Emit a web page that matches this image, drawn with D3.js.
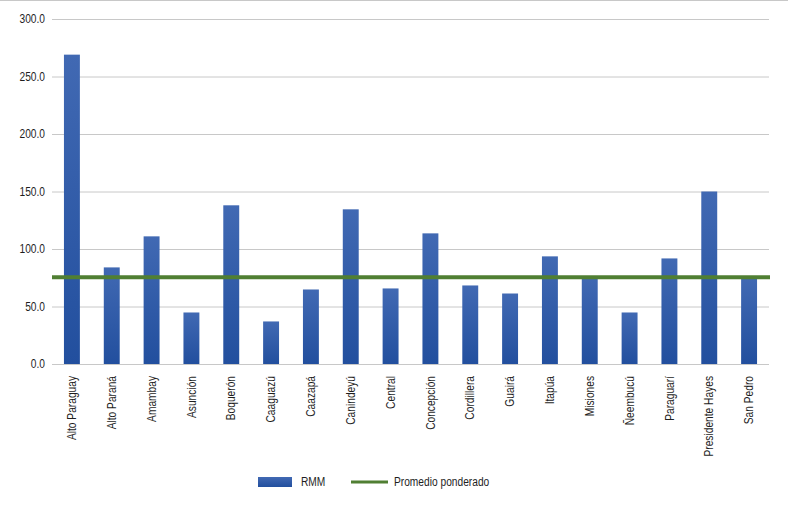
<!DOCTYPE html>
<html lang="es">
<head>
<meta charset="utf-8" />
<title>RMM por departamento</title>
<script src="https://d3js.org/d3.v7.min.js"></script>
<style>
  body { margin: 0; background: #fff; }
  svg { display: block; font-family: "Liberation Sans", Arial, sans-serif; }
  .grid line { stroke: #c8c8c8; stroke-width: 1; }
  .grid .domain { display: none; }
  .tick text { fill: #1e1e1e; font-size: 12px; }
  .legend text { fill: #1e1e1e; font-size: 12px; }
</style>
</head>
<body>
<svg width="788" height="507"></svg>
<script>
// departamentos
var departamentos = ["Alto Paraguay", "Alto Paraná", "Amambay", "Asunción", "Boquerón", "Caaguazú",
  "Caazapá", "Canindeyú", "Central", "Concepción", "Cordillera", "Guairá", "Itapúa", "Misiones",
  "Ñeembucú", "Paraguarí", "Presidente Hayes", "San Pedro"];

// razón de mortalidad materna
var rmm = [269, 84, 111, 44.8, 138, 37, 64.8, 134.5, 65.7, 113.6, 68.3, 61.3, 93.6, 75.3,
  44.8, 91.8, 150, 74.5];

var promedio = 75.5;
var yTicks = [0, 50, 100, 150, 200, 250, 300];

var svg = d3.select("svg"),
    margin = {top: 19, right: 19, bottom: 143, left: 52},
    width = 788 - margin.left - margin.right,
    height = 507 - margin.top - margin.bottom;

// marco superior
svg.append("line")
    .attr("x1", 0).attr("x2", 788)
    .attr("y1", 0.5).attr("y2", 0.5)
    .style("stroke", "#c8c8c8");

var defs = svg.append("defs");
var grad = defs.append("linearGradient")
    .attr("id", "barGrad")
    .attr("x1", 0).attr("y1", 0).attr("x2", 0).attr("y2", 1);
grad.append("stop").attr("offset", "0%").attr("stop-color", "#4169b3");
grad.append("stop").attr("offset", "100%").attr("stop-color", "#224f9e");

var g = svg.append("g")
    .attr("transform", "translate(" + margin.left + "," + margin.top + ")");

var x = d3.scaleBand()
    .domain(departamentos)
    .range([0, width])
    .paddingInner(0.6)
    .paddingOuter(0.3);

var y = d3.scaleLinear()
    .domain([0, 300])
    .range([height, 0]);

g.append("g")
    .attr("class", "grid")
    .call(d3.axisLeft(y).tickValues(yTicks).tickSize(-width).tickFormat(d3.format(".1f")).tickPadding(7));

g.selectAll(".grid .tick line").attr("x1", 0).attr("x2", width);

g.selectAll(".bar")
    .data(rmm)
  .enter().append("rect")
    .attr("class", "bar")
    .attr("x", function(d, i) { return x(departamentos[i]); })
    .attr("width", x.bandwidth())
    .attr("y", function(d) { return y(d); })
    .attr("height", function(d) { return height - y(d); })
    .style("fill", "url(#barGrad)");

// etiquetas del eje x
var xAxis = g.append("g")
    .attr("transform", "translate(0," + height + ")")
    .call(d3.axisBottom(x).tickSize(0));
xAxis.select(".domain").remove();
xAxis.selectAll("text")
    .attr("transform", "rotate(-90)")
    .attr("text-anchor", "end")
    .attr("dx", "-12")
    .attr("dy", "0.35em")
    .attr("x", 0)
    .attr("y", 0);

// promedio ponderado
g.append("line")
    .attr("x1", 0)
    .attr("x2", width + 1)
    .attr("y1", y(promedio))
    .attr("y2", y(promedio))
    .style("stroke", "#507f33")
    .style("stroke-width", 4);

// leyenda
var legend = svg.append("g").attr("class", "legend");
legend.append("rect")
    .attr("x", 258).attr("y", 477)
    .attr("width", 34).attr("height", 10)
    .style("fill", "url(#barGrad)");
legend.append("text")
    .attr("x", 301).attr("y", 482)
    .attr("dy", "0.35em")
    .text("RMM");
legend.append("line")
    .attr("x1", 351).attr("x2", 388)
    .attr("y1", 482).attr("y2", 482)
    .style("stroke", "#507f33")
    .style("stroke-width", 3);
legend.append("text")
    .attr("x", 394).attr("y", 482)
    .attr("dy", "0.35em")
    .text("Promedio ponderado");

// letra condensada (como Arial Narrow)
svg.selectAll("text").each(function() {
  var w = this.getComputedTextLength();
  d3.select(this)
      .attr("textLength", w * 0.85)
      .attr("lengthAdjust", "spacingAndGlyphs");
});
</script>
</body>
</html>
